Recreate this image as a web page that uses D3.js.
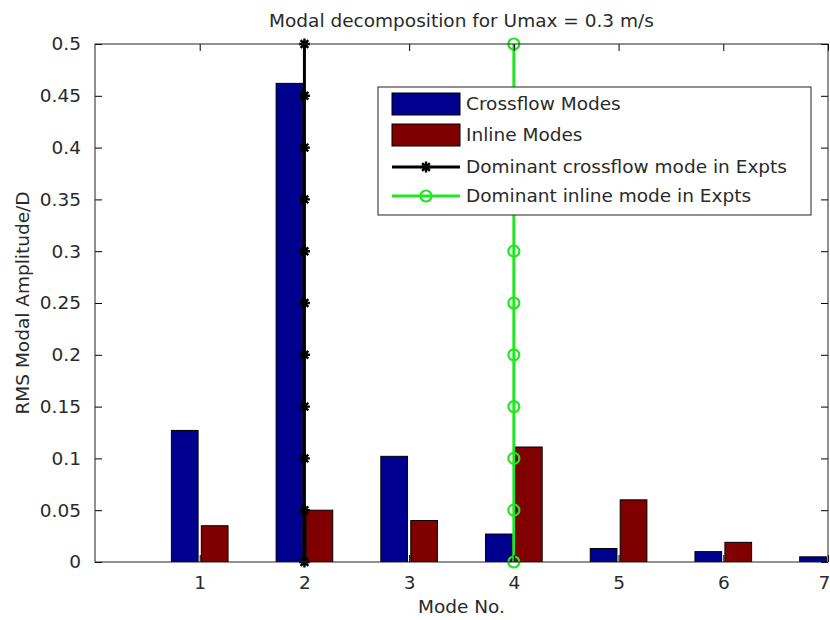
<!DOCTYPE html>
<html>
<head>
<meta charset="utf-8">
<script src="https://cdn.jsdelivr.net/npm/d3@7"></script>
<style>
  body { margin: 0; background: #fff; }
  svg { display: block; }
</style>
</head>
<body>
<div id="chart"></div>
<script>
// data
const modes = [1, 2, 3, 4, 5, 6, 7];
const crossflow = [0.127, 0.462, 0.102, 0.027, 0.013, 0.010, 0.005];
const inline = [0.035, 0.050, 0.040, 0.111, 0.060, 0.019, null];
const xTicks = [1, 2, 3, 4, 5, 6, 7];
const yTicks = [0, 0.05, 0.1, 0.15, 0.2, 0.25, 0.3, 0.35, 0.4, 0.45, 0.5];
const dominantCrossflowMode = 2;
const dominantInlineMode = 4;
const markerLevels = [0, 0.05, 0.1, 0.15, 0.2, 0.25, 0.3, 0.35, 0.4, 0.45, 0.5];
const legendLabels = ["Crossflow Modes", "Inline Modes", "Dominant crossflow mode in Expts", "Dominant inline mode in Expts"];

const width = 830;
const height = 620;
const margin = { top: 44, right: 2, bottom: 58, left: 95 };
const font = "'DejaVu Sans', sans-serif";
const fontSize = "18.5px";
const textColor = "#2a2a2a";

const blue = "#00008f";
const red = "#800000";
const green = "#22e622";

const svg = d3.select("#chart").append("svg")
  .attr("width", width)
  .attr("height", height);

const x = d3.scaleLinear().domain([0, 7]).range([margin.left, width - margin.right]);
const y = d3.scaleLinear().domain([0, 0.5]).range([height - margin.bottom, margin.top]);

const barW = 0.255;   // bar width in mode units
const offset = 0.143; // shift of each series from the tick

// clip everything to the axes
svg.append("clipPath").attr("id", "plot-clip")
  .append("rect")
  .attr("x", x(0)).attr("y", y(0.5))
  .attr("width", x(7) - x(0)).attr("height", y(0) - y(0.5));

const plot = svg.append("g").attr("clip-path", "url(#plot-clip)");

const barData = modes.flatMap((m, i) => [
  { mode: m, value: crossflow[i], shift: -offset, color: blue },
  { mode: m, value: inline[i], shift: offset, color: red }
]).filter(d => d.value != null);

plot.selectAll("rect.bar")
  .data(barData)
  .join("rect")
  .attr("class", "bar")
  .attr("x", d => x(d.mode + d.shift - barW / 2))
  .attr("width", d => x(d.mode + d.shift + barW / 2) - x(d.mode + d.shift - barW / 2))
  .attr("y", d => y(d.value))
  .attr("height", d => y(0) - y(d.value))
  .attr("fill", d => d.color)
  .attr("stroke", "#000")
  .attr("stroke-width", 1);

// matlab style '*' marker: a plus and a cross
const star = r => `M${-r},0L${r},0M0,${-r}L0,${r}` +
  `M${-r * 0.7},${-r * 0.7}L${r * 0.7},${r * 0.7}M${-r * 0.7},${r * 0.7}L${r * 0.7},${-r * 0.7}`;

const vline = d3.line().x(d => x(d[0])).y(d => y(d[1]));

// dominant crossflow mode line
const crossPts = markerLevels.map(v => [dominantCrossflowMode, v]);
svg.append("path")
  .attr("d", vline(crossPts))
  .attr("stroke", "#000")
  .attr("stroke-width", 3)
  .attr("fill", "none");
svg.selectAll("path.star")
  .data(crossPts)
  .join("path")
  .attr("class", "star")
  .attr("transform", d => `translate(${x(d[0])},${y(d[1])})`)
  .attr("d", star(5.5))
  .attr("stroke", "#000")
  .attr("stroke-width", 2.4)
  .attr("fill", "none");

// dominant inline mode line
const inlinePts = markerLevels.map(v => [dominantInlineMode, v]);
svg.append("path")
  .attr("d", vline(inlinePts))
  .attr("stroke", green)
  .attr("stroke-width", 3)
  .attr("fill", "none");
svg.selectAll("circle.mk")
  .data(inlinePts)
  .join("circle")
  .attr("class", "mk")
  .attr("cx", d => x(d[0]))
  .attr("cy", d => y(d[1]))
  .attr("r", 5.5)
  .attr("stroke", green)
  .attr("stroke-width", 2.2)
  .attr("fill", "none");

// axes box with inward ticks on all sides
const tickLen = 7;
const styleAxis = g => {
  g.select(".domain").remove();
  g.selectAll("line").attr("stroke", "#000");
  g.selectAll("text")
    .style("font-family", font)
    .style("font-size", fontSize)
    .attr("fill", textColor);
};

const bottomAxis = svg.append("g")
  .attr("transform", `translate(0,${y(0)})`)
  .call(d3.axisBottom(x).tickValues(xTicks).tickFormat(d3.format("d")).tickSizeInner(-tickLen).tickSizeOuter(0).tickPadding(14))
  .call(styleAxis);

// keep the last label inside the page
bottomAxis.selectAll(".tick text")
  .filter(d => d === 7)
  .attr("text-anchor", "end")
  .attr("dx", "0.1em");

svg.append("g")
  .attr("transform", `translate(0,${y(0.5)})`)
  .call(d3.axisTop(x).tickValues(xTicks).tickFormat("").tickSizeInner(-tickLen).tickSizeOuter(0))
  .call(styleAxis);

svg.append("g")
  .attr("transform", `translate(${x(0)},0)`)
  .call(d3.axisLeft(y).tickValues(yTicks).tickFormat(d => d3.format("")(+d.toFixed(2))).tickSizeInner(-tickLen).tickSizeOuter(0).tickPadding(14))
  .call(styleAxis);

svg.append("g")
  .attr("transform", `translate(${x(7)},0)`)
  .call(d3.axisRight(y).tickValues(yTicks).tickFormat("").tickSizeInner(-tickLen).tickSizeOuter(0))
  .call(styleAxis);

svg.append("rect")
  .attr("x", x(0)).attr("y", y(0.5))
  .attr("width", x(7) - x(0)).attr("height", y(0) - y(0.5))
  .attr("fill", "none")
  .attr("stroke", "#222")
  .attr("stroke-width", 1);

// title and axis labels
svg.append("text")
  .attr("x", (x(0) + x(7)) / 2)
  .attr("y", 27)
  .attr("text-anchor", "middle")
  .style("font-family", font)
  .style("font-size", fontSize)
  .attr("fill", textColor)
  .text("Modal decomposition for Umax = 0.3 m/s");

svg.append("text")
  .attr("x", (x(0) + x(7)) / 2)
  .attr("y", 613)
  .attr("text-anchor", "middle")
  .style("font-family", font)
  .style("font-size", fontSize)
  .attr("fill", textColor)
  .text("Mode No.");

svg.append("text")
  .attr("transform", `translate(29,${(y(0) + y(0.5)) / 2}) rotate(-90)`)
  .attr("text-anchor", "middle")
  .style("font-family", font)
  .style("font-size", fontSize)
  .attr("fill", textColor)
  .text("RMS Modal Amplitude/D");

// legend
const legend = svg.append("g").attr("transform", "translate(378,87)");
legend.append("rect")
  .attr("width", 433).attr("height", 128)
  .attr("fill", "#fff")
  .attr("stroke", "#222")
  .attr("stroke-width", 1);

const rowY = [17, 48, 80, 109];
const rows = legend.selectAll("g.row")
  .data(legendLabels)
  .join("g")
  .attr("class", "row")
  .attr("transform", (_, i) => `translate(0,${rowY[i]})`);

rows.filter((_, i) => i < 2).append("rect")
  .attr("x", 14).attr("y", -11)
  .attr("width", 68).attr("height", 22)
  .attr("fill", (_, i) => [blue, red][i])
  .attr("stroke", "#000");

rows.filter((_, i) => i >= 2).append("line")
  .attr("x1", 14).attr("x2", 82)
  .attr("stroke", (_, i) => ["#000", green][i])
  .attr("stroke-width", 3);

rows.filter((_, i) => i === 2).append("path")
  .attr("transform", "translate(48,0)")
  .attr("d", star(5.5))
  .attr("stroke", "#000")
  .attr("stroke-width", 2.4);

rows.filter((_, i) => i === 3).append("circle")
  .attr("cx", 48).attr("r", 5.5)
  .attr("fill", "none")
  .attr("stroke", green)
  .attr("stroke-width", 2.2);

rows.append("text")
  .attr("x", 88)
  .attr("dy", "0.35em")
  .style("font-family", font)
  .style("font-size", fontSize)
  .attr("fill", textColor)
  .text(d => d);
</script>
</body>
</html>
